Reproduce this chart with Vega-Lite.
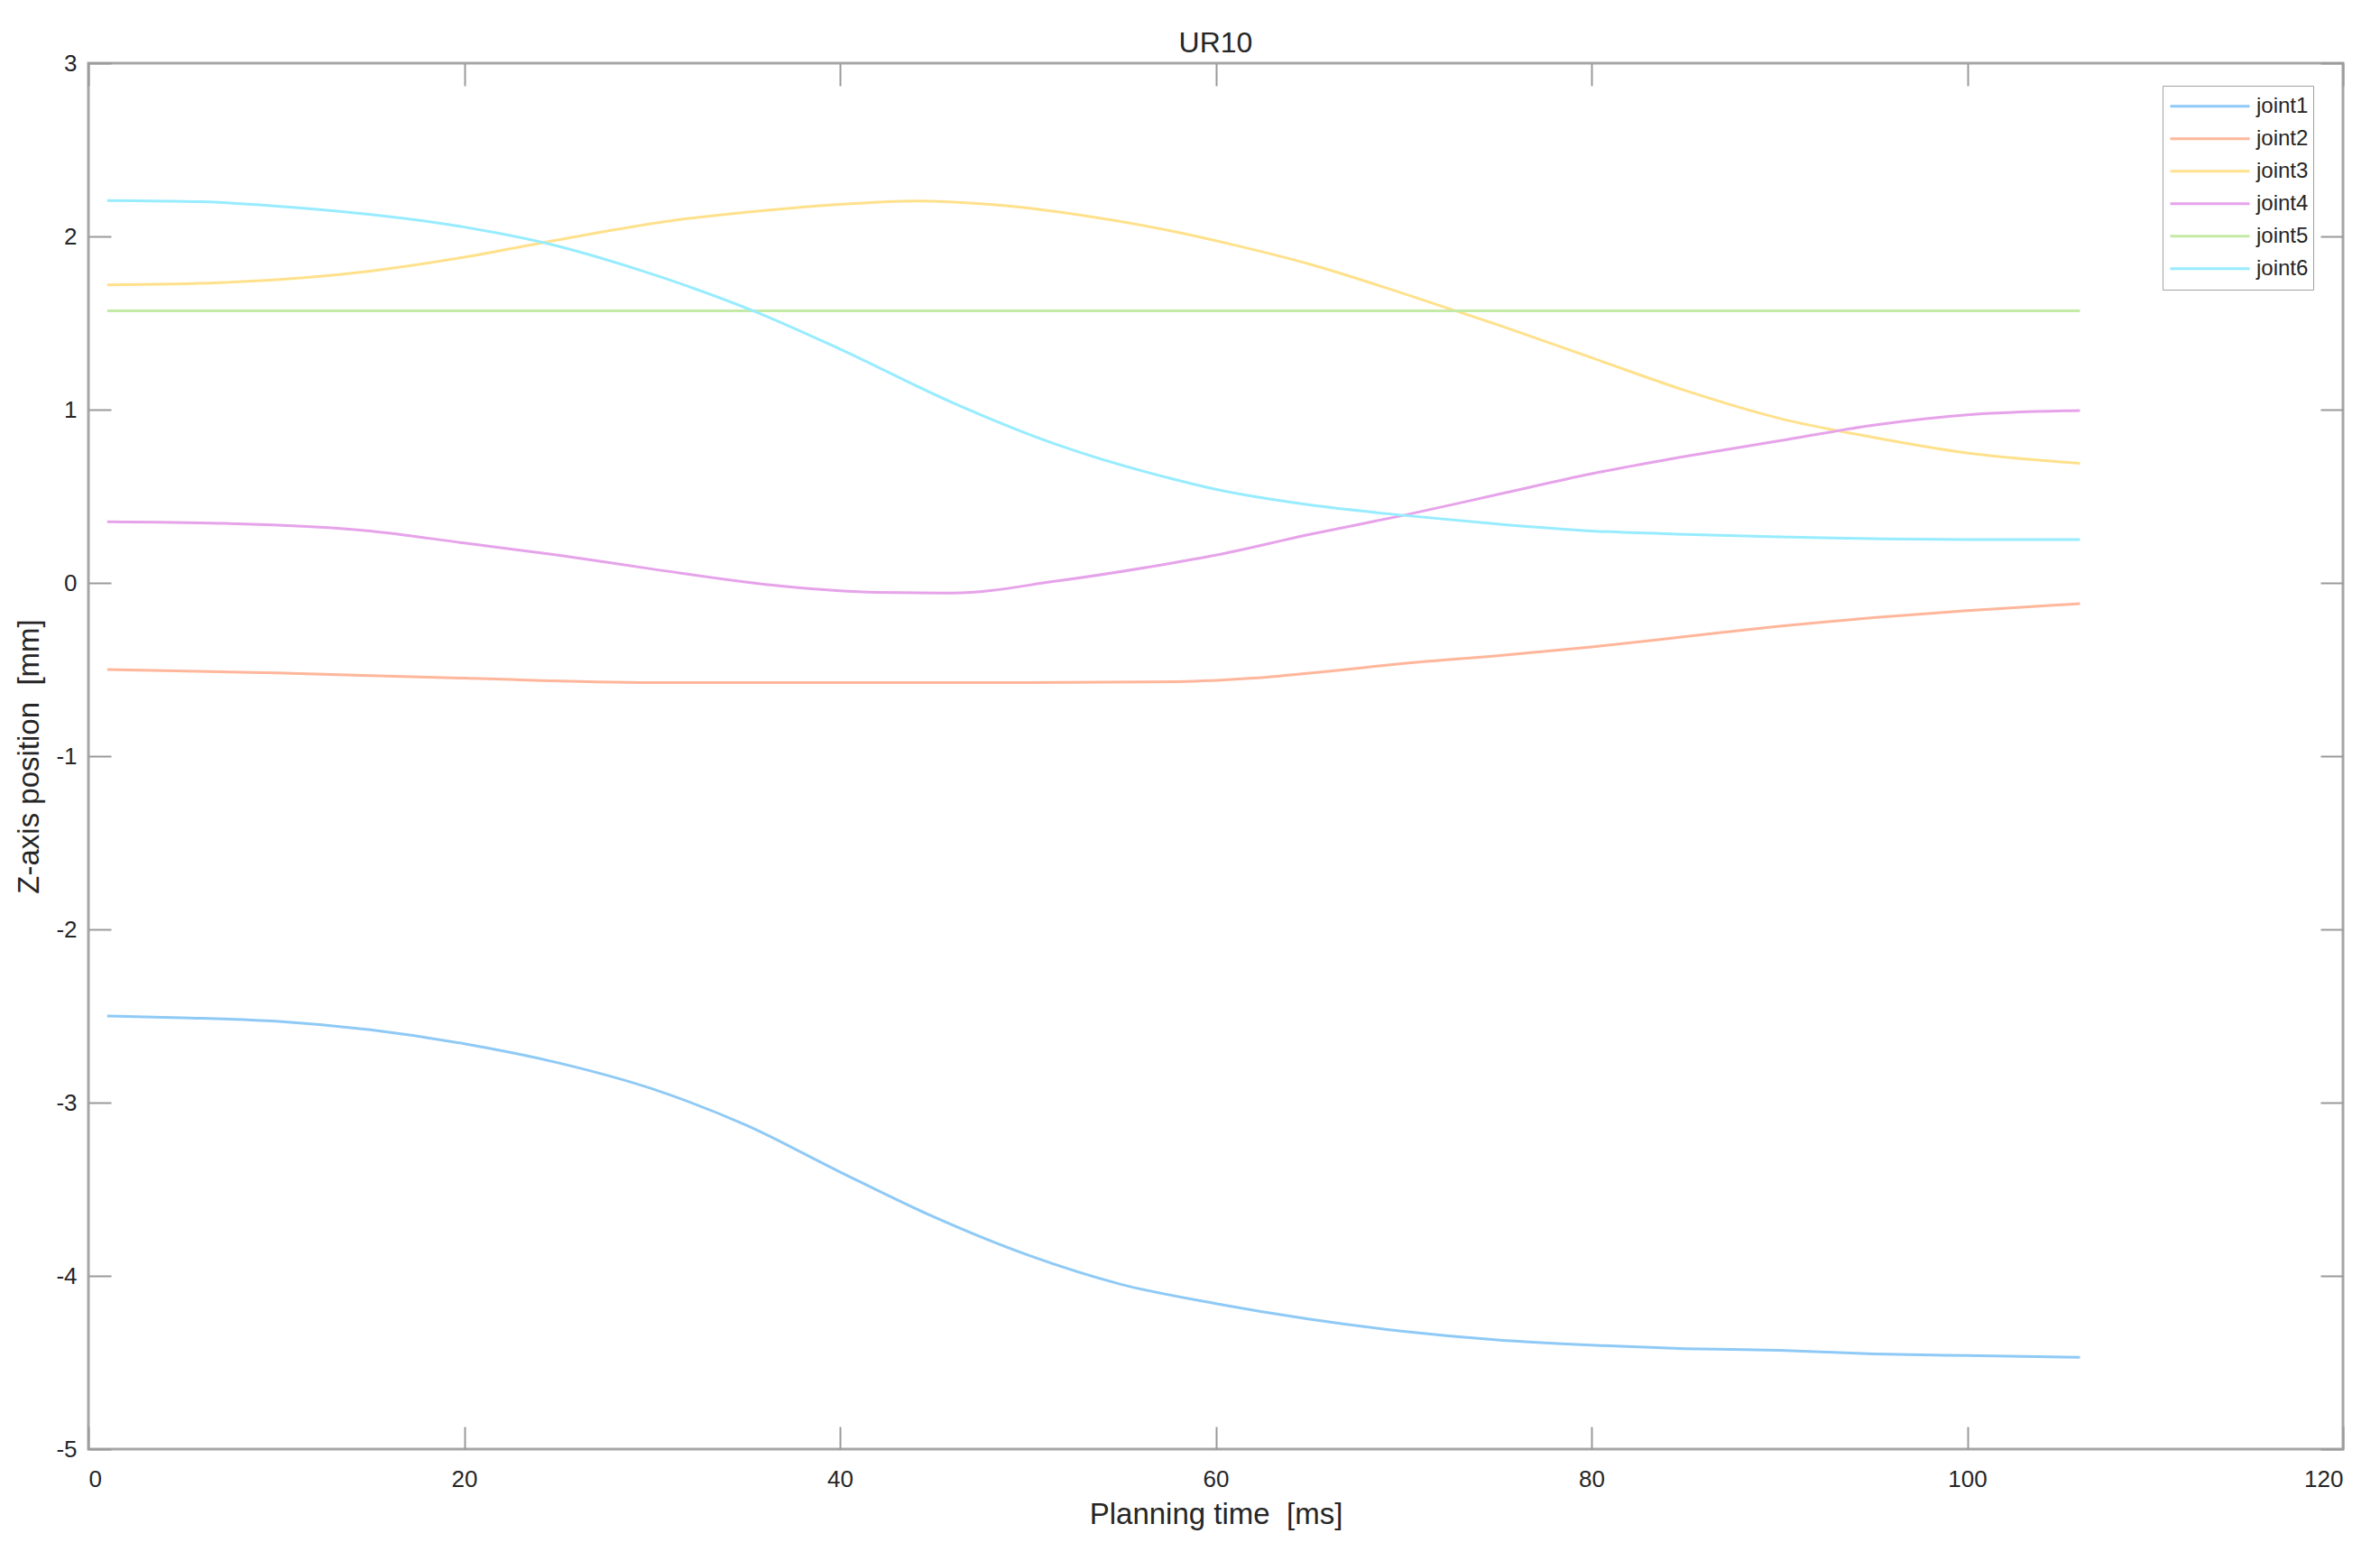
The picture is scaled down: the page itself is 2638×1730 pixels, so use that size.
{
  "$schema": "https://vega.github.io/schema/vega-lite/v6.json",
  "autosize": {"type": "none"},
  "width": 2499,
  "height": 1536,
  "padding": {"left": 98, "top": 70, "right": 41, "bottom": 124},
  "background": "white",
  "title": {"text": "UR10", "fontSize": 32, "font": "Liberation Sans", "fontWeight": "normal", "color": "#262626", "offset": -8, "anchor": "middle"},
  "data": {
    "values": [
      {"t": 1, "joint": "joint1", "v": -2.50}, {"t": 5, "joint": "joint1", "v": -2.51}, {"t": 10, "joint": "joint1", "v": -2.53},
      {"t": 15, "joint": "joint1", "v": -2.58}, {"t": 20, "joint": "joint1", "v": -2.66}, {"t": 25, "joint": "joint1", "v": -2.77},
      {"t": 30, "joint": "joint1", "v": -2.92}, {"t": 35, "joint": "joint1", "v": -3.13}, {"t": 40, "joint": "joint1", "v": -3.40},
      {"t": 45, "joint": "joint1", "v": -3.66}, {"t": 50, "joint": "joint1", "v": -3.88}, {"t": 55, "joint": "joint1", "v": -4.05},
      {"t": 60, "joint": "joint1", "v": -4.16}, {"t": 65, "joint": "joint1", "v": -4.25}, {"t": 70, "joint": "joint1", "v": -4.32},
      {"t": 75, "joint": "joint1", "v": -4.37}, {"t": 80, "joint": "joint1", "v": -4.40}, {"t": 85, "joint": "joint1", "v": -4.42},
      {"t": 90, "joint": "joint1", "v": -4.43}, {"t": 95, "joint": "joint1", "v": -4.45}, {"t": 100, "joint": "joint1", "v": -4.46},
      {"t": 106, "joint": "joint1", "v": -4.47},

      {"t": 1, "joint": "joint2", "v": -0.50}, {"t": 10, "joint": "joint2", "v": -0.52}, {"t": 20, "joint": "joint2", "v": -0.55},
      {"t": 30, "joint": "joint2", "v": -0.575}, {"t": 40, "joint": "joint2", "v": -0.575}, {"t": 50, "joint": "joint2", "v": -0.575},
      {"t": 58, "joint": "joint2", "v": -0.57}, {"t": 62, "joint": "joint2", "v": -0.55}, {"t": 66, "joint": "joint2", "v": -0.51},
      {"t": 70, "joint": "joint2", "v": -0.465}, {"t": 75, "joint": "joint2", "v": -0.42}, {"t": 80, "joint": "joint2", "v": -0.37},
      {"t": 85, "joint": "joint2", "v": -0.31}, {"t": 90, "joint": "joint2", "v": -0.25}, {"t": 95, "joint": "joint2", "v": -0.20},
      {"t": 100, "joint": "joint2", "v": -0.16}, {"t": 106, "joint": "joint2", "v": -0.12},

      {"t": 1, "joint": "joint3", "v": 1.72}, {"t": 7, "joint": "joint3", "v": 1.733}, {"t": 15, "joint": "joint3", "v": 1.80},
      {"t": 20, "joint": "joint3", "v": 1.88}, {"t": 24, "joint": "joint3", "v": 1.96}, {"t": 31, "joint": "joint3", "v": 2.09},
      {"t": 36, "joint": "joint3", "v": 2.15}, {"t": 40, "joint": "joint3", "v": 2.185}, {"t": 44, "joint": "joint3", "v": 2.205},
      {"t": 48, "joint": "joint3", "v": 2.185}, {"t": 53, "joint": "joint3", "v": 2.12}, {"t": 57.7, "joint": "joint3", "v": 2.03},
      {"t": 61, "joint": "joint3", "v": 1.95}, {"t": 65, "joint": "joint3", "v": 1.84}, {"t": 70, "joint": "joint3", "v": 1.67},
      {"t": 75, "joint": "joint3", "v": 1.49}, {"t": 80, "joint": "joint3", "v": 1.30}, {"t": 85, "joint": "joint3", "v": 1.11},
      {"t": 90, "joint": "joint3", "v": 0.95}, {"t": 95, "joint": "joint3", "v": 0.84}, {"t": 100, "joint": "joint3", "v": 0.75},
      {"t": 106, "joint": "joint3", "v": 0.69},

      {"t": 1, "joint": "joint4", "v": 0.353}, {"t": 7, "joint": "joint4", "v": 0.344}, {"t": 15, "joint": "joint4", "v": 0.30},
      {"t": 20, "joint": "joint4", "v": 0.23}, {"t": 25, "joint": "joint4", "v": 0.16}, {"t": 30, "joint": "joint4", "v": 0.08},
      {"t": 37, "joint": "joint4", "v": -0.02}, {"t": 42, "joint": "joint4", "v": -0.055}, {"t": 46, "joint": "joint4", "v": -0.059},
      {"t": 51.5, "joint": "joint4", "v": 0.01}, {"t": 57.7, "joint": "joint4", "v": 0.115}, {"t": 60, "joint": "joint4", "v": 0.16},
      {"t": 65, "joint": "joint4", "v": 0.28}, {"t": 70, "joint": "joint4", "v": 0.39}, {"t": 75, "joint": "joint4", "v": 0.51},
      {"t": 80, "joint": "joint4", "v": 0.63}, {"t": 85, "joint": "joint4", "v": 0.73}, {"t": 90, "joint": "joint4", "v": 0.82},
      {"t": 95, "joint": "joint4", "v": 0.91}, {"t": 100, "joint": "joint4", "v": 0.97}, {"t": 106, "joint": "joint4", "v": 0.995},

      {"t": 1, "joint": "joint5", "v": 1.5708}, {"t": 106, "joint": "joint5", "v": 1.5708},

      {"t": 1, "joint": "joint6", "v": 2.207}, {"t": 6, "joint": "joint6", "v": 2.20}, {"t": 11, "joint": "joint6", "v": 2.167},
      {"t": 20, "joint": "joint6", "v": 2.054}, {"t": 24.3, "joint": "joint6", "v": 1.962}, {"t": 29.5, "joint": "joint6", "v": 1.80},
      {"t": 35.4, "joint": "joint6", "v": 1.57}, {"t": 40, "joint": "joint6", "v": 1.35}, {"t": 46, "joint": "joint6", "v": 1.04},
      {"t": 51.5, "joint": "joint6", "v": 0.80}, {"t": 57.7, "joint": "joint6", "v": 0.60}, {"t": 60, "joint": "joint6", "v": 0.54},
      {"t": 65, "joint": "joint6", "v": 0.45}, {"t": 70, "joint": "joint6", "v": 0.39}, {"t": 75, "joint": "joint6", "v": 0.34},
      {"t": 80, "joint": "joint6", "v": 0.30}, {"t": 85, "joint": "joint6", "v": 0.28}, {"t": 90, "joint": "joint6", "v": 0.265},
      {"t": 95, "joint": "joint6", "v": 0.255}, {"t": 100, "joint": "joint6", "v": 0.25}, {"t": 106, "joint": "joint6", "v": 0.25}
    ]
  },
  "layer": [
    {
      "mark": {"type": "line", "strokeWidth": 3, "interpolate": "monotone"},
      "encoding": {
        "x": {
          "field": "t", "type": "quantitative",
          "scale": {"domain": [0, 120], "nice": false, "zero": false},
          "axis": {"orient": "bottom", "values": [0, 20, 40, 60, 80, 100, 120], "labelExpr": "toString(datum.value)", "title": "Planning time \u00a0[ms]", "titlePadding": 10, "labelPadding": 45}
        },
        "y": {
          "field": "v", "type": "quantitative",
          "scale": {"domain": [-5, 3], "nice": false, "zero": false},
          "axis": {"orient": "left", "values": [-5, -4, -3, -2, -1, 0, 1, 2, 3], "labelExpr": "toString(datum.value)", "title": "Z-axis position \u00a0[mm]", "titlePadding": 12, "labelPadding": 38}
        },
        "color": {
          "field": "joint", "type": "nominal",
          "scale": {
            "domain": ["joint1", "joint2", "joint3", "joint4", "joint5", "joint6"],
            "range": ["#8fcaf6", "#ffb69b", "#ffe18c", "#e6a3ea", "#c4eaa6", "#98ecff"]
          },
          "legend": {
            "title": null,
            "orient": "none",
            "legendX": 2299,
            "legendY": 25,
            "direction": "vertical",
            "symbolType": "stroke",
            "symbolSize": 7744,
            "symbolStrokeWidth": 3,
            "symbolOffset": 2,
            "labelFontSize": 24,
            "labelFont": "Liberation Sans",
            "labelColor": "#262626",
            "labelOffset": 6,
            "clipHeight": 35.5,
            "rowPadding": 0,
            "padding": 5,
            "strokeColor": "#a0a0a0",
            "fillColor": "white",
            "cornerRadius": 0
          }
        }
      }
    },
    {
      "mark": {"type": "line", "strokeOpacity": 0},
      "encoding": {
        "x": {
          "field": "t", "type": "quantitative",
          "scale": {"domain": [0, 120], "nice": false, "zero": false},
          "axis": {"orient": "top", "values": [0, 20, 40, 60, 80, 100, 120], "labels": false, "title": null}
        },
        "y": {
          "field": "v", "type": "quantitative",
          "scale": {"domain": [-5, 3], "nice": false, "zero": false},
          "axis": {"orient": "right", "values": [-5, -4, -3, -2, -1, 0, 1, 2, 3], "labels": false, "title": null}
        }
      }
    }
  ],
  "resolve": {"axis": {"x": "independent", "y": "independent"}},
  "config": {
    "view": {"stroke": "#a6a6a6", "strokeWidth": 3},
    "axis": {
      "grid": false,
      "domain": false,
      "tickSize": -25,
      "tickColor": "#9a9a9a",
      "tickWidth": 2,
      "labelFont": "Liberation Sans",
      "labelFontSize": 26,
      "labelColor": "#262626",
      "titleFont": "Liberation Sans",
      "titleFontSize": 33,
      "titleFontWeight": "normal",
      "titleColor": "#262626"
    }
  }
}
